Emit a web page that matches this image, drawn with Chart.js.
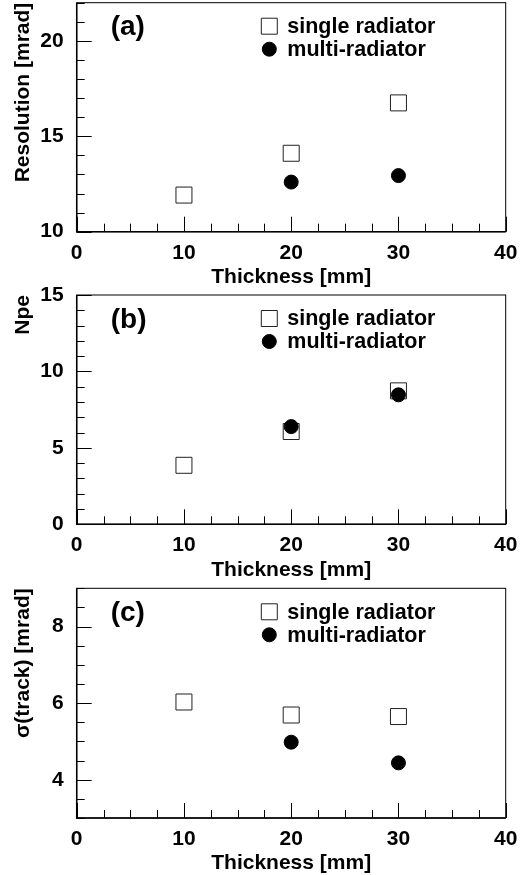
<!DOCTYPE html>
<html>
<head>
<meta charset="utf-8">
<script src="https://cdn.jsdelivr.net/npm/chart.js@4/dist/chart.umd.min.js"></script>
<style>
  html, body { margin: 0; padding: 0; background: #fff; }
  body { width: 528px; height: 875px; position: relative; overflow: hidden; }
  canvas { position: absolute; left: 0; }
</style>
</head>
<body>
<canvas id="panelA"></canvas>
<canvas id="panelB"></canvas>
<canvas id="panelC"></canvas>
<script>
// data
const thickness = [10, 20, 30];
const multiThickness = [20, 30];
const seriesNames = ['single radiator', 'multi-radiator'];

const resolutionSingle = [11.92, 14.11, 16.75];
const resolutionMulti = [12.6, 12.94];

const npeSingle = [3.86, 6.07, 8.73];
const npeMulti = [6.39, 8.47];

const trackSingle = [6.03, 5.69, 5.65];
const trackMulti = [4.98, 4.44];

const xTickLabels = [0, 10, 20, 30, 40];

const FONT = "'Liberation Sans', Arial, Helvetica, sans-serif";

function points(xs, ys) {
    return xs.map((x, i) => ({ x: x, y: ys[i] }));
}

function isMajor(v, step) {
    return Math.abs(v / step - Math.round(v / step)) < 1e-6;
}

// frame + inward ticks, ROOT style
const frameTicks = {
    id: 'frameTicks',
    beforeDatasetsDraw(chart, args, opts) {
        const { ctx, chartArea: a, scales: { x, y } } = chart;
        ctx.save();
        ctx.strokeStyle = '#000';
        ctx.lineWidth = 1;
        ctx.strokeRect(a.left, a.top, a.right - a.left, a.bottom - a.top);
        ctx.lineWidth = 1.5;
        ctx.beginPath();
        ctx.moveTo(a.left, a.top);
        ctx.lineTo(a.left, a.bottom);
        ctx.lineTo(a.right, a.bottom);
        ctx.stroke();
        ctx.lineWidth = 1;
        ctx.beginPath();
        x.ticks.forEach(function (t) {
            const px = Math.round(x.getPixelForValue(t.value)) + 0.5;
            const len = isMajor(t.value, opts.xMajor) ? 15 : 8;
            ctx.moveTo(px, a.bottom);
            ctx.lineTo(px, a.bottom - len);
        });
        y.ticks.forEach(function (t) {
            const py = Math.round(y.getPixelForValue(t.value)) + 0.5;
            const len = isMajor(t.value, opts.yMajor) ? 15 : 8;
            ctx.moveTo(a.left, py);
            ctx.lineTo(a.left + len, py);
        });
        ctx.stroke();
        ctx.restore();
    }
};

// panel tag and in-frame legend
const panelLegend = {
    id: 'panelLegend',
    afterDraw(chart, args, opts) {
        const { ctx, chartArea: a } = chart;
        ctx.save();
        ctx.fillStyle = '#000';
        ctx.textBaseline = 'middle';
        ctx.textAlign = 'left';
        ctx.font = 'bold 28px ' + FONT;
        ctx.fillText(opts.tag, a.left + 34, a.top + 25);

        ctx.font = 'bold 21.5px ' + FONT;
        const rows = [23.5, 46.5];
        chart.data.datasets.forEach(function (ds, i) {
            const mx = a.left + 192.6;
            const my = a.top + rows[i];
            ctx.fillStyle = ds.backgroundColor;
            ctx.strokeStyle = ds.borderColor;
            ctx.lineWidth = ds.borderWidth;
            ctx.beginPath();
            if (ds.pointStyle === 'rect') {
                const h = Math.SQRT1_2 * ds.pointRadius;
                ctx.rect(mx - h, my - h, 2 * h, 2 * h);
            } else {
                ctx.arc(mx, my, ds.pointRadius, 0, Math.PI * 2);
            }
            ctx.fill();
            ctx.stroke();
            ctx.fillStyle = '#000';
            ctx.fillText(ds.label, a.left + 210.6, my + 1);
        });
        ctx.restore();
    }
};

function makePanel(id, cfg) {
    const canvas = document.getElementById(id);
    const canvasTop = Math.floor(cfg.chartTop - 28);
    const padTop = cfg.chartTop - canvasTop;
    const height = Math.ceil(cfg.chartBottom + 58 - canvasTop);
    const xAxisH = height + canvasTop - cfg.chartBottom;
    canvas.width = 528;
    canvas.height = height;
    canvas.style.top = canvasTop + 'px';
    canvas.style.width = '528px';
    canvas.style.height = height + 'px';

    const labelFont = { family: FONT, size: 21, weight: 'bold' };

    return new Chart(canvas.getContext('2d'), {
        type: 'scatter',
        data: {
            datasets: [
                {
                    label: seriesNames[0],
                    data: points(thickness, cfg.single),
                    pointStyle: 'rect',
                    pointRadius: 11.3,
                    backgroundColor: '#fff',
                    borderColor: '#222',
                    borderWidth: 1,
                    order: 1
                },
                {
                    label: seriesNames[1],
                    data: points(multiThickness, cfg.multi),
                    pointStyle: 'circle',
                    pointRadius: 7,
                    backgroundColor: '#000',
                    borderColor: '#000',
                    borderWidth: 1,
                    order: 0
                }
            ]
        },
        options: {
            responsive: false,
            animation: false,
            events: [],
            devicePixelRatio: 1,
            layout: {
                padding: { top: padTop, left: 0, right: 22.3, bottom: 0 }
            },
            scales: {
                x: {
                    type: 'linear',
                    min: 0,
                    max: 40,
                    grid: { display: false, drawTicks: false },
                    border: { display: false },
                    afterFit: function (scale) { scale.height = xAxisH; },
                    ticks: {
                        stepSize: 2.5,
                        autoSkip: false,
                        maxRotation: 0,
                        padding: 8.5,
                        color: '#000',
                        font: labelFont,
                        callback: function (v) {
                            return xTickLabels.includes(v) ? String(v) : '';
                        }
                    },
                    title: {
                        display: true,
                        text: 'Thickness [mm]',
                        color: '#000',
                        padding: { top: 0, bottom: 0 },
                        font: labelFont
                    }
                },
                y: {
                    type: 'linear',
                    min: cfg.yMin,
                    max: cfg.yMax,
                    grid: { display: false, drawTicks: false },
                    border: { display: false },
                    afterFit: function (scale) { scale.width = 76.7; },
                    ticks: {
                        stepSize: cfg.yMinor,
                        autoSkip: false,
                        padding: 13,
                        color: '#000',
                        font: labelFont,
                        callback: function (v) {
                            return cfg.yLabels.includes(v) ? String(v) : '';
                        }
                    },
                    title: {
                        display: true,
                        text: cfg.yTitle,
                        align: 'end',
                        color: '#000',
                        padding: { top: 10.5, bottom: 0 },
                        font: labelFont
                    }
                }
            },
            plugins: {
                legend: { display: false },
                tooltip: { enabled: false },
                frameTicks: { xMajor: 10, yMajor: cfg.yMajor },
                panelLegend: { tag: cfg.tag }
            }
        },
        plugins: [frameTicks, panelLegend]
    });
}

makePanel('panelA', {
    tag: '(a)', chartTop: 2.7, chartBottom: 231.7,
    yMin: 10, yMax: 22, yMinor: 1, yMajor: 5, yLabels: [10, 15, 20],
    yTitle: 'Resolution [mrad]',
    single: resolutionSingle, multi: resolutionMulti
});

makePanel('panelB', {
    tag: '(b)', chartTop: 295, chartBottom: 524.3,
    yMin: 0, yMax: 15, yMinor: 1, yMajor: 5, yLabels: [0, 5, 10, 15],
    yTitle: 'Npe',
    single: npeSingle, multi: npeMulti
});

makePanel('panelC', {
    tag: '(c)', chartTop: 588.3, chartBottom: 818,
    yMin: 3, yMax: 9, yMinor: 0.5, yMajor: 2, yLabels: [4, 6, 8],
    yTitle: 'σ(track) [mrad]',
    single: trackSingle, multi: trackMulti
});
</script>
</body>
</html>
